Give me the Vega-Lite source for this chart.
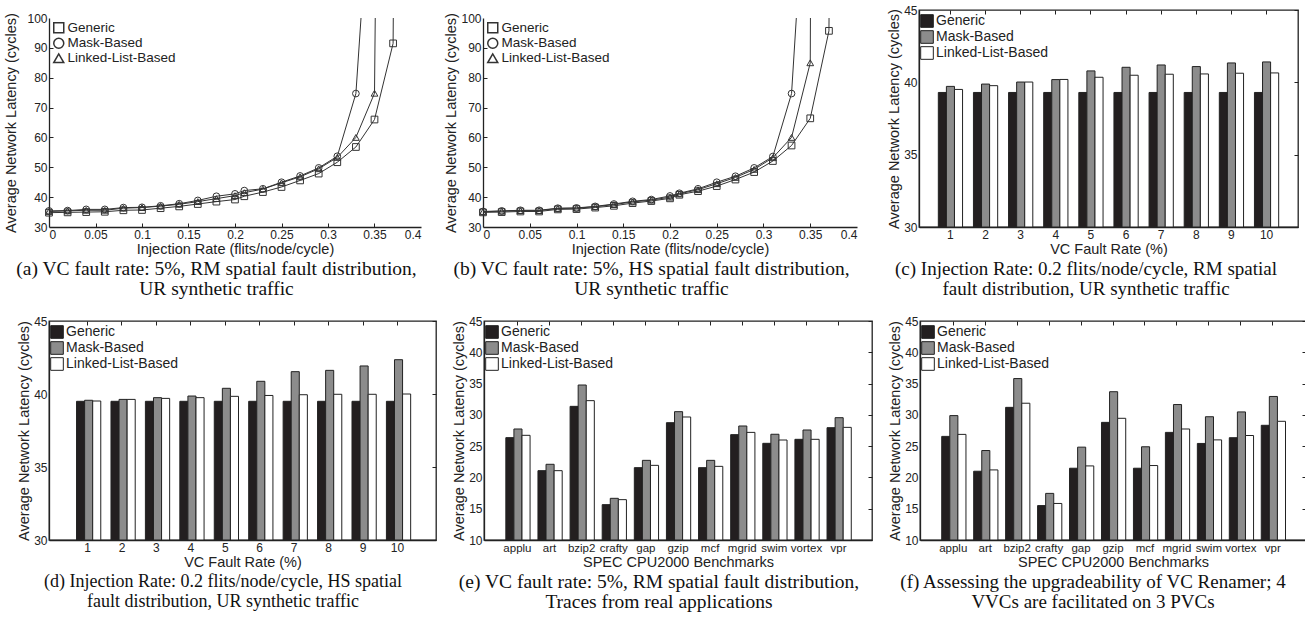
{
"$schema": "https://vega.github.io/schema/vega-lite/v6.json",
"padding": {"left": 3, "top": 3, "right": 0, "bottom": 0},
"spacing": 14,
"resolve": {"scale": {"color": "independent", "shape": "independent"}, "legend": {"color": "independent", "shape": "independent"}},
"datasets": {
"lineA": [
{"x":0,"s":"Generic","v":34.8},{"x":0,"s":"Mask-Based","v":35.4},{"x":0,"s":"Linked-List-Based","v":35.2},
{"x":0.02,"s":"Generic","v":34.9},{"x":0.02,"s":"Mask-Based","v":35.5},{"x":0.02,"s":"Linked-List-Based","v":35.4},
{"x":0.04,"s":"Generic","v":35.0},{"x":0.04,"s":"Mask-Based","v":35.9},{"x":0.04,"s":"Linked-List-Based","v":35.6},
{"x":0.06,"s":"Generic","v":35.1},{"x":0.06,"s":"Mask-Based","v":35.9},{"x":0.06,"s":"Linked-List-Based","v":35.6},
{"x":0.08,"s":"Generic","v":35.6},{"x":0.08,"s":"Mask-Based","v":36.5},{"x":0.08,"s":"Linked-List-Based","v":36.3},
{"x":0.1,"s":"Generic","v":35.7},{"x":0.1,"s":"Mask-Based","v":36.6},{"x":0.1,"s":"Linked-List-Based","v":36.5},
{"x":0.12,"s":"Generic","v":36.3},{"x":0.12,"s":"Mask-Based","v":37.1},{"x":0.12,"s":"Linked-List-Based","v":37.0},
{"x":0.14,"s":"Generic","v":36.9},{"x":0.14,"s":"Mask-Based","v":37.8},{"x":0.14,"s":"Linked-List-Based","v":37.6},
{"x":0.16,"s":"Generic","v":37.7},{"x":0.16,"s":"Mask-Based","v":38.9},{"x":0.16,"s":"Linked-List-Based","v":38.5},
{"x":0.18,"s":"Generic","v":38.5},{"x":0.18,"s":"Mask-Based","v":40.3},{"x":0.18,"s":"Linked-List-Based","v":39.5},
{"x":0.2,"s":"Generic","v":39.2},{"x":0.2,"s":"Mask-Based","v":41.1},{"x":0.2,"s":"Linked-List-Based","v":40.5},
{"x":0.21,"s":"Generic","v":40.3},{"x":0.21,"s":"Mask-Based","v":42.2},{"x":0.21,"s":"Linked-List-Based","v":41.5},
{"x":0.23,"s":"Generic","v":41.7},{"x":0.23,"s":"Mask-Based","v":42.8},{"x":0.23,"s":"Linked-List-Based","v":42.7},
{"x":0.25,"s":"Generic","v":43.4},{"x":0.25,"s":"Mask-Based","v":45.0},{"x":0.25,"s":"Linked-List-Based","v":44.8},
{"x":0.27,"s":"Generic","v":45.6},{"x":0.27,"s":"Mask-Based","v":47.1},{"x":0.27,"s":"Linked-List-Based","v":46.8},
{"x":0.29,"s":"Generic","v":47.9},{"x":0.29,"s":"Mask-Based","v":49.8},{"x":0.29,"s":"Linked-List-Based","v":49.5},
{"x":0.31,"s":"Generic","v":51.7},{"x":0.31,"s":"Mask-Based","v":53.7},{"x":0.31,"s":"Linked-List-Based","v":53.3},
{"x":0.33,"s":"Generic","v":56.8},{"x":0.33,"s":"Mask-Based","v":74.7},{"x":0.33,"s":"Linked-List-Based","v":60.0},
{"x":0.3355,"s":"Mask-Based","v":100},
{"x":0.35,"s":"Generic","v":66.0},{"x":0.35,"s":"Linked-List-Based","v":74.8},
{"x":0.3508,"s":"Linked-List-Based","v":100},
{"x":0.37,"s":"Generic","v":91.5},
{"x":0.3702,"s":"Generic","v":100}
],
"lineB": [
{"x":0,"s":"Generic","v":34.9},{"x":0,"s":"Mask-Based","v":35.2},{"x":0,"s":"Linked-List-Based","v":35.1},
{"x":0.02,"s":"Generic","v":35.0},{"x":0.02,"s":"Mask-Based","v":35.4},{"x":0.02,"s":"Linked-List-Based","v":35.3},
{"x":0.04,"s":"Generic","v":35.2},{"x":0.04,"s":"Mask-Based","v":35.6},{"x":0.04,"s":"Linked-List-Based","v":35.5},
{"x":0.06,"s":"Generic","v":35.2},{"x":0.06,"s":"Mask-Based","v":35.6},{"x":0.06,"s":"Linked-List-Based","v":35.5},
{"x":0.08,"s":"Generic","v":35.9},{"x":0.08,"s":"Mask-Based","v":36.3},{"x":0.08,"s":"Linked-List-Based","v":36.2},
{"x":0.1,"s":"Generic","v":36.0},{"x":0.1,"s":"Mask-Based","v":36.4},{"x":0.1,"s":"Linked-List-Based","v":36.3},
{"x":0.12,"s":"Generic","v":36.5},{"x":0.12,"s":"Mask-Based","v":36.9},{"x":0.12,"s":"Linked-List-Based","v":36.8},
{"x":0.14,"s":"Generic","v":37.1},{"x":0.14,"s":"Mask-Based","v":37.7},{"x":0.14,"s":"Linked-List-Based","v":37.5},
{"x":0.16,"s":"Generic","v":38.0},{"x":0.16,"s":"Mask-Based","v":38.6},{"x":0.16,"s":"Linked-List-Based","v":38.4},
{"x":0.18,"s":"Generic","v":38.7},{"x":0.18,"s":"Mask-Based","v":39.2},{"x":0.18,"s":"Linked-List-Based","v":39.0},
{"x":0.2,"s":"Generic","v":39.6},{"x":0.2,"s":"Mask-Based","v":40.4},{"x":0.2,"s":"Linked-List-Based","v":40.0},
{"x":0.21,"s":"Generic","v":40.8},{"x":0.21,"s":"Mask-Based","v":41.3},{"x":0.21,"s":"Linked-List-Based","v":41.1},
{"x":0.23,"s":"Generic","v":42.0},{"x":0.23,"s":"Mask-Based","v":42.8},{"x":0.23,"s":"Linked-List-Based","v":42.5},
{"x":0.25,"s":"Generic","v":43.7},{"x":0.25,"s":"Mask-Based","v":45.0},{"x":0.25,"s":"Linked-List-Based","v":44.5},
{"x":0.27,"s":"Generic","v":45.9},{"x":0.27,"s":"Mask-Based","v":47.0},{"x":0.27,"s":"Linked-List-Based","v":46.6},
{"x":0.29,"s":"Generic","v":48.4},{"x":0.29,"s":"Mask-Based","v":49.8},{"x":0.29,"s":"Linked-List-Based","v":49.3},
{"x":0.31,"s":"Generic","v":52.1},{"x":0.31,"s":"Mask-Based","v":53.6},{"x":0.31,"s":"Linked-List-Based","v":53.2},
{"x":0.33,"s":"Generic","v":57.3},{"x":0.33,"s":"Mask-Based","v":74.7},{"x":0.33,"s":"Linked-List-Based","v":60.0},
{"x":0.3351,"s":"Mask-Based","v":100},
{"x":0.35,"s":"Generic","v":66.4},{"x":0.35,"s":"Linked-List-Based","v":85.0},
{"x":0.3502,"s":"Linked-List-Based","v":100},
{"x":0.37,"s":"Generic","v":95.7},
{"x":0.3701,"s":"Generic","v":100}
],
"barC": [
{"r":1,"s":"Generic","v":39.3},{"r":1,"s":"Mask-Based","v":39.72},{"r":1,"s":"Linked-List-Based","v":39.51},
{"r":2,"s":"Generic","v":39.3},{"r":2,"s":"Mask-Based","v":39.88},{"r":2,"s":"Linked-List-Based","v":39.77},
{"r":3,"s":"Generic","v":39.3},{"r":3,"s":"Mask-Based","v":40.02},{"r":3,"s":"Linked-List-Based","v":40.02},
{"r":4,"s":"Generic","v":39.3},{"r":4,"s":"Mask-Based","v":40.19},{"r":4,"s":"Linked-List-Based","v":40.2},
{"r":5,"s":"Generic","v":39.3},{"r":5,"s":"Mask-Based","v":40.79},{"r":5,"s":"Linked-List-Based","v":40.35},
{"r":6,"s":"Generic","v":39.3},{"r":6,"s":"Mask-Based","v":41.04},{"r":6,"s":"Linked-List-Based","v":40.49},
{"r":7,"s":"Generic","v":39.3},{"r":7,"s":"Mask-Based","v":41.2},{"r":7,"s":"Linked-List-Based","v":40.56},
{"r":8,"s":"Generic","v":39.3},{"r":8,"s":"Mask-Based","v":41.09},{"r":8,"s":"Linked-List-Based","v":40.58},
{"r":9,"s":"Generic","v":39.3},{"r":9,"s":"Mask-Based","v":41.34},{"r":9,"s":"Linked-List-Based","v":40.63},
{"r":10,"s":"Generic","v":39.3},{"r":10,"s":"Mask-Based","v":41.41},{"r":10,"s":"Linked-List-Based","v":40.65}
],
"barD": [
{"r":1,"s":"Generic","v":39.5},{"r":1,"s":"Mask-Based","v":39.57},{"r":1,"s":"Linked-List-Based","v":39.52},
{"r":2,"s":"Generic","v":39.5},{"r":2,"s":"Mask-Based","v":39.63},{"r":2,"s":"Linked-List-Based","v":39.63},
{"r":3,"s":"Generic","v":39.5},{"r":3,"s":"Mask-Based","v":39.75},{"r":3,"s":"Linked-List-Based","v":39.7},
{"r":4,"s":"Generic","v":39.5},{"r":4,"s":"Mask-Based","v":39.86},{"r":4,"s":"Linked-List-Based","v":39.75},
{"r":5,"s":"Generic","v":39.5},{"r":5,"s":"Mask-Based","v":40.39},{"r":5,"s":"Linked-List-Based","v":39.84},
{"r":6,"s":"Generic","v":39.5},{"r":6,"s":"Mask-Based","v":40.87},{"r":6,"s":"Linked-List-Based","v":39.9},
{"r":7,"s":"Generic","v":39.5},{"r":7,"s":"Mask-Based","v":41.53},{"r":7,"s":"Linked-List-Based","v":39.95},
{"r":8,"s":"Generic","v":39.5},{"r":8,"s":"Mask-Based","v":41.62},{"r":8,"s":"Linked-List-Based","v":39.98},
{"r":9,"s":"Generic","v":39.5},{"r":9,"s":"Mask-Based","v":41.92},{"r":9,"s":"Linked-List-Based","v":39.98},
{"r":10,"s":"Generic","v":39.5},{"r":10,"s":"Mask-Based","v":42.35},{"r":10,"s":"Linked-List-Based","v":40.0}
],
"barE": [
{"b":"applu","s":"Generic","v":26.36},{"b":"applu","s":"Mask-Based","v":27.74},{"b":"applu","s":"Linked-List-Based","v":26.73},
{"b":"art","s":"Generic","v":21.08},{"b":"art","s":"Mask-Based","v":22.1},{"b":"art","s":"Linked-List-Based","v":21.08},
{"b":"bzip2","s":"Generic","v":31.36},{"b":"bzip2","s":"Mask-Based","v":34.77},{"b":"bzip2","s":"Linked-List-Based","v":32.27},
{"b":"crafty","s":"Generic","v":15.65},{"b":"crafty","s":"Mask-Based","v":16.66},{"b":"crafty","s":"Linked-List-Based","v":16.45},
{"b":"gap","s":"Generic","v":21.56},{"b":"gap","s":"Mask-Based","v":22.73},{"b":"gap","s":"Linked-List-Based","v":21.93},
{"b":"gzip","s":"Generic","v":28.75},{"b":"gzip","s":"Mask-Based","v":30.51},{"b":"gzip","s":"Linked-List-Based","v":29.66},
{"b":"mcf","s":"Generic","v":21.56},{"b":"mcf","s":"Mask-Based","v":22.73},{"b":"mcf","s":"Linked-List-Based","v":21.77},
{"b":"mgrid","s":"Generic","v":26.84},{"b":"mgrid","s":"Mask-Based","v":28.22},{"b":"mgrid","s":"Linked-List-Based","v":27.2},
{"b":"swim","s":"Generic","v":25.45},{"b":"swim","s":"Mask-Based","v":26.9},{"b":"swim","s":"Linked-List-Based","v":25.98},
{"b":"vortex","s":"Generic","v":26.09},{"b":"vortex","s":"Mask-Based","v":27.58},{"b":"vortex","s":"Linked-List-Based","v":26.09},
{"b":"vpr","s":"Generic","v":27.95},{"b":"vpr","s":"Mask-Based","v":29.55},{"b":"vpr","s":"Linked-List-Based","v":28.0}
],
"barF": [
{"b":"applu","s":"Generic","v":26.56},{"b":"applu","s":"Mask-Based","v":29.88},{"b":"applu","s":"Linked-List-Based","v":26.88},
{"b":"art","s":"Generic","v":20.99},{"b":"art","s":"Mask-Based","v":24.3},{"b":"art","s":"Linked-List-Based","v":21.2},
{"b":"bzip2","s":"Generic","v":31.2},{"b":"bzip2","s":"Mask-Based","v":35.8},{"b":"bzip2","s":"Linked-List-Based","v":31.86},
{"b":"crafty","s":"Generic","v":15.5},{"b":"crafty","s":"Mask-Based","v":17.45},{"b":"crafty","s":"Linked-List-Based","v":15.84},
{"b":"gap","s":"Generic","v":21.47},{"b":"gap","s":"Mask-Based","v":24.84},{"b":"gap","s":"Linked-List-Based","v":21.84},
{"b":"gzip","s":"Generic","v":28.8},{"b":"gzip","s":"Mask-Based","v":33.7},{"b":"gzip","s":"Linked-List-Based","v":29.45},
{"b":"mcf","s":"Generic","v":21.47},{"b":"mcf","s":"Mask-Based","v":24.9},{"b":"mcf","s":"Linked-List-Based","v":21.9},
{"b":"mgrid","s":"Generic","v":27.2},{"b":"mgrid","s":"Mask-Based","v":31.65},{"b":"mgrid","s":"Linked-List-Based","v":27.74},
{"b":"swim","s":"Generic","v":25.43},{"b":"swim","s":"Mask-Based","v":29.7},{"b":"swim","s":"Linked-List-Based","v":26.0},
{"b":"vortex","s":"Generic","v":26.35},{"b":"vortex","s":"Mask-Based","v":30.47},{"b":"vortex","s":"Linked-List-Based","v":26.7},
{"b":"vpr","s":"Generic","v":28.33},{"b":"vpr","s":"Mask-Based","v":32.94},{"b":"vpr","s":"Linked-List-Based","v":28.97}
]
},
"vconcat": [
{
"hconcat": [
{
"width": 372, "height": 217,
"data": {"name": "lineA"},
"title": {"text": ["(a) VC fault rate: 5%, RM spatial fault distribution,", "UR synthetic traffic"], "fontSize": 19.5, "dx": -18.5},
"layer": [
{"mark": {"type": "line", "color": "#333", "strokeWidth": 1, "clip": true},
 "encoding": {
  "x": {"field": "x", "type": "quantitative", "scale": {"domain": [0, 0.4], "nice": false}, "axis": {"values": [0,0.05,0.1,0.15,0.2,0.25,0.3,0.35,0.4], "format": ".2~f", "title": "Injection Rate (flits/node/cycle)"}},
  "y": {"field": "v", "type": "quantitative", "scale": {"domain": [30, 100], "zero": false, "nice": false, "range": [217, 8]}, "axis": {"values": [30,40,50,60,70,80,90,100], "title": "Average Network Latency (cycles)", "titlePadding": 8}},
  "detail": {"field": "s"}}},
{"transform": [{"filter": "datum.v < 100"}],
 "mark": {"type": "point", "filled": false, "color": "#333", "strokeWidth": 1, "size": 45, "opacity": 1},
 "encoding": {
  "x": {"field": "x", "type": "quantitative", "axis": {"orient": "top", "offset": -217, "ticks": true, "tickSize": 4, "labels": false, "domain": false, "title": null, "values": [0.05,0.1,0.15,0.2,0.25,0.3,0.35]}},
  "y": {"field": "v", "type": "quantitative", "axis": {"orient": "right", "offset": -372, "ticks": true, "tickSize": 4, "labels": false, "domain": false, "title": null, "values": [40,50,60,70,80,90]}},
  "shape": {"field": "s", "scale": {"domain": ["Generic", "Mask-Based", "Linked-List-Based"], "range": ["square", "circle", "triangle-up"]},
   "legend": {"orient": "none", "legendX": 3, "legendY": 11, "title": null, "padding": 0, "rowPadding": -1.5, "labelOffset": 2, "labelFontSize": 13.5, "labelColor": "#222"}}}}
],
"resolve": {"axis": {"x": "independent", "y": "independent"}}
},
{
"width": 374, "height": 217,
"data": {"name": "lineB"},
"title": {"text": ["(b) VC fault rate: 5%, HS spatial fault distribution,", "UR synthetic traffic"], "fontSize": 19.5, "dx": -18.5},
"layer": [
{"mark": {"type": "line", "color": "#333", "strokeWidth": 1, "clip": true},
 "encoding": {
  "x": {"field": "x", "type": "quantitative", "scale": {"domain": [0, 0.4], "nice": false}, "axis": {"values": [0,0.05,0.1,0.15,0.2,0.25,0.3,0.35,0.4], "format": ".2~f", "title": "Injection Rate (flits/node/cycle)"}},
  "y": {"field": "v", "type": "quantitative", "scale": {"domain": [30, 100], "zero": false, "nice": false, "range": [217, 8]}, "axis": {"values": [30,40,50,60,70,80,90,100], "title": "Average Network Latency (cycles)"}},
  "detail": {"field": "s"}}},
{"transform": [{"filter": "datum.v < 100"}],
 "mark": {"type": "point", "filled": false, "color": "#333", "strokeWidth": 1, "size": 45, "opacity": 1},
 "encoding": {
  "x": {"field": "x", "type": "quantitative", "axis": {"orient": "top", "offset": -217, "ticks": true, "tickSize": 4, "labels": false, "domain": false, "title": null, "values": [0.05,0.1,0.15,0.2,0.25,0.3,0.35]}},
  "y": {"field": "v", "type": "quantitative", "axis": {"orient": "right", "offset": -374, "ticks": true, "tickSize": 4, "labels": false, "domain": false, "title": null, "values": [40,50,60,70,80,90]}},
  "shape": {"field": "s", "scale": {"domain": ["Generic", "Mask-Based", "Linked-List-Based"], "range": ["square", "circle", "triangle-up"]},
   "legend": {"orient": "none", "legendX": 3, "legendY": 11, "title": null, "padding": 0, "rowPadding": -1.5, "labelOffset": 2, "labelFontSize": 13.5, "labelColor": "#222"}}}}
],
"resolve": {"axis": {"x": "independent", "y": "independent"}}
},
{
"width": 379, "height": 217,
"data": {"name": "barC"},
"title": {"text": ["(c) Injection Rate: 0.2 flits/node/cycle, RM spatial", "fault distribution, UR synthetic traffic"], "fontSize": 19, "dx": -22.5},
"view": {"stroke": "#222", "strokeWidth": 1.3},
"layer": [
{"mark": {"type": "bar", "stroke": "#222", "strokeWidth": 1},
 "encoding": {
  "x": {"field": "r", "type": "ordinal", "scale": {"paddingInner": 0.31, "paddingOuter": 0.55}, "axis": {"title": "VC Fault Rate (%)", "labelAngle": 0}},
  "xOffset": {"field": "s", "sort": ["Generic", "Mask-Based", "Linked-List-Based"], "scale": {"paddingInner": 0, "paddingOuter": 0}},
  "y": {"field": "v", "type": "quantitative", "scale": {"domain": [30, 45], "zero": false, "nice": false}, "axis": {"values": [30,35,40,45], "title": "Average Network Latency (cycles)"}},
  "y2": {"datum": 30},
  "color": {"field": "s", "scale": {"domain": ["Generic", "Mask-Based", "Linked-List-Based"], "range": ["#231f20", "#8c8c8c", "#ffffff"]},
   "legend": {"orient": "none", "legendX": 1, "legendY": 4, "title": null, "padding": 0, "rowPadding": -5, "labelOffset": 2, "labelFontSize": 14, "labelColor": "#222", "symbolType": "square", "symbolSize": 160, "symbolStrokeColor": "#222", "symbolStrokeWidth": 1}}}},
{"mark": {"type": "point", "opacity": 0},
 "encoding": {
  "x": {"field": "r", "type": "ordinal", "axis": {"orient": "top", "offset": -4, "ticks": true, "tickSize": 4, "labels": false, "title": null, "domain": false}},
  "y": {"field": "v", "type": "quantitative", "axis": {"orient": "right", "offset": -4, "ticks": true, "tickSize": 4, "labels": false, "title": null, "domain": false, "values": [30,35,40,45]}}}}
],
"resolve": {"axis": {"x": "independent", "y": "independent"}}
}
],
"spacing": 62,
"bounds": "flush",
"resolve": {"scale": {"color": "independent", "shape": "independent"}, "legend": {"color": "independent", "shape": "independent"}}
},
{
"hconcat": [
{
"width": 387, "height": 219,
"data": {"name": "barD"},
"title": {"text": ["(d) Injection Rate: 0.2 flits/node/cycle, HS spatial", "fault distribution, UR synthetic traffic"], "fontSize": 18, "dx": -19.5},
"view": {"stroke": "#222", "strokeWidth": 1.3},
"layer": [
{"mark": {"type": "bar", "stroke": "#222", "strokeWidth": 1},
 "encoding": {
  "x": {"field": "r", "type": "ordinal", "scale": {"paddingInner": 0.36, "paddingOuter": 0.8}, "axis": {"title": "VC Fault Rate (%)", "labelAngle": 0}},
  "xOffset": {"field": "s", "sort": ["Generic", "Mask-Based", "Linked-List-Based"], "scale": {"paddingInner": 0, "paddingOuter": 0}},
  "y": {"field": "v", "type": "quantitative", "scale": {"domain": [30, 45], "zero": false, "nice": false}, "axis": {"values": [30,35,40,45], "title": "Average Network Latency (cycles)"}},
  "y2": {"datum": 30},
  "color": {"field": "s", "scale": {"domain": ["Generic", "Mask-Based", "Linked-List-Based"], "range": ["#231f20", "#8c8c8c", "#ffffff"]},
   "legend": {"orient": "none", "legendX": 1, "legendY": 4, "title": null, "padding": 0, "rowPadding": -5, "labelOffset": 2, "labelFontSize": 14, "labelColor": "#222", "symbolType": "square", "symbolSize": 160, "symbolStrokeColor": "#222", "symbolStrokeWidth": 1}}}},
{"mark": {"type": "point", "opacity": 0},
 "encoding": {
  "x": {"field": "r", "type": "ordinal", "axis": {"orient": "top", "offset": -4, "ticks": true, "tickSize": 4, "labels": false, "title": null, "domain": false}},
  "y": {"field": "v", "type": "quantitative", "axis": {"orient": "right", "offset": -4, "ticks": true, "tickSize": 4, "labels": false, "title": null, "domain": false, "values": [30,35,40,45]}}}}
],
"resolve": {"axis": {"x": "independent", "y": "independent"}}
},
{
"width": 388, "height": 219,
"data": {"name": "barE"},
"title": {"text": ["(e) VC fault rate: 5%, RM spatial fault distribution,", "Traces from real applications"], "fontSize": 19.5, "dx": -19},
"view": {"stroke": "#222", "strokeWidth": 1.3},
"layer": [
{"mark": {"type": "bar", "stroke": "#222", "strokeWidth": 1},
 "encoding": {
  "x": {"field": "b", "type": "nominal", "sort": null, "scale": {"paddingInner": 0.28, "paddingOuter": 0.68}, "axis": {"title": "SPEC CPU2000 Benchmarks", "labelAngle": 0, "labelFontSize": 11.5}},
  "xOffset": {"field": "s", "sort": ["Generic", "Mask-Based", "Linked-List-Based"], "scale": {"paddingInner": 0, "paddingOuter": 0}},
  "y": {"field": "v", "type": "quantitative", "scale": {"domain": [10, 45], "zero": false, "nice": false}, "axis": {"values": [10,15,20,25,30,35,40,45], "title": "Average Network Latency (cycles)"}},
  "y2": {"datum": 10},
  "color": {"field": "s", "scale": {"domain": ["Generic", "Mask-Based", "Linked-List-Based"], "range": ["#231f20", "#8c8c8c", "#ffffff"]},
   "legend": {"orient": "none", "legendX": 1, "legendY": 4, "title": null, "padding": 0, "rowPadding": -5, "labelOffset": 2, "labelFontSize": 14, "labelColor": "#222", "symbolType": "square", "symbolSize": 160, "symbolStrokeColor": "#222", "symbolStrokeWidth": 1}}}},
{"mark": {"type": "point", "opacity": 0},
 "encoding": {
  "x": {"field": "b", "type": "nominal", "sort": null, "axis": {"orient": "top", "offset": -4, "ticks": true, "tickSize": 4, "labels": false, "title": null, "domain": false}},
  "y": {"field": "v", "type": "quantitative", "axis": {"orient": "right", "offset": -4, "ticks": true, "tickSize": 4, "labels": false, "title": null, "domain": false, "values": [10,15,20,25,30,35,40,45]}}}}
],
"resolve": {"axis": {"x": "independent", "y": "independent"}}
},
{
"width": 386, "height": 219,
"data": {"name": "barF"},
"title": {"text": ["(f) Assessing the upgradeability of VC Renamer; 4", "VVCs are facilitated on 3 PVCs"], "fontSize": 19, "dx": -20},
"view": {"stroke": "#222", "strokeWidth": 1.3},
"layer": [
{"mark": {"type": "bar", "stroke": "#222", "strokeWidth": 1},
 "encoding": {
  "x": {"field": "b", "type": "nominal", "sort": null, "scale": {"paddingInner": 0.28, "paddingOuter": 0.68}, "axis": {"title": "SPEC CPU2000 Benchmarks", "labelAngle": 0, "labelFontSize": 11.5}},
  "xOffset": {"field": "s", "sort": ["Generic", "Mask-Based", "Linked-List-Based"], "scale": {"paddingInner": 0, "paddingOuter": 0}},
  "y": {"field": "v", "type": "quantitative", "scale": {"domain": [10, 45], "zero": false, "nice": false}, "axis": {"values": [10,15,20,25,30,35,40,45], "title": "Average Network Latency (cycles)"}},
  "y2": {"datum": 10},
  "color": {"field": "s", "scale": {"domain": ["Generic", "Mask-Based", "Linked-List-Based"], "range": ["#231f20", "#8c8c8c", "#ffffff"]},
   "legend": {"orient": "none", "legendX": 1, "legendY": 4, "title": null, "padding": 0, "rowPadding": -5, "labelOffset": 2, "labelFontSize": 14, "labelColor": "#222", "symbolType": "square", "symbolSize": 160, "symbolStrokeColor": "#222", "symbolStrokeWidth": 1}}}},
{"mark": {"type": "point", "opacity": 0},
 "encoding": {
  "x": {"field": "b", "type": "nominal", "sort": null, "axis": {"orient": "top", "offset": -4, "ticks": true, "tickSize": 4, "labels": false, "title": null, "domain": false}},
  "y": {"field": "v", "type": "quantitative", "axis": {"orient": "right", "offset": -4, "ticks": true, "tickSize": 4, "labels": false, "title": null, "domain": false, "values": [10,15,20,25,30,35,40,45]}}}}
],
"resolve": {"axis": {"x": "independent", "y": "independent"}}
}
],
"spacing": 48,
"bounds": "flush",
"resolve": {"scale": {"color": "independent", "shape": "independent"}, "legend": {"color": "independent", "shape": "independent"}}
}
],
"config": {
"font": "Liberation Sans",
"view": {"stroke": null},
"axis": {"labelFont": "Liberation Sans", "labelFontSize": 12, "labelColor": "#222", "labelOverlap": false, "titleFont": "Liberation Sans", "titleFontSize": 14.5, "titleFontWeight": "normal", "titleColor": "#222", "domainColor": "#222", "domainWidth": 1.3, "tickColor": "#222", "ticks": false, "labelPadding": 2, "titlePadding": 2, "grid": false},
"legend": {"labelFont": "Liberation Sans"},
"title": {"font": "Liberation Serif", "fontSize": 18.5, "fontWeight": "normal", "color": "#111", "orient": "bottom", "anchor": "middle", "frame": "group", "dx": -20, "offset": 4, "lineHeight": 20}
}
}
